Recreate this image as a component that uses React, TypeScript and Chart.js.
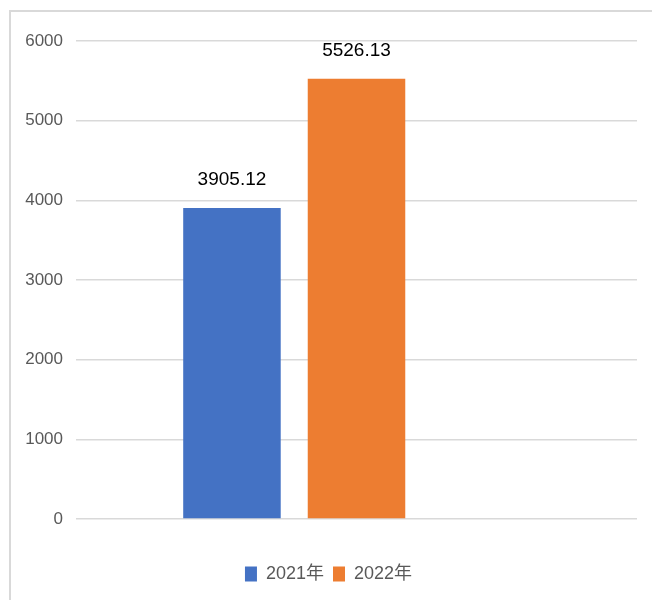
import React, { useEffect, useRef } from "react";
import { Chart, registerables } from "chart.js";

Chart.register(...registerables);

const categories = [""];
const seriesNames = ["2021年", "2022年", ""];
const values2021 = [3905.12];
const values2022 = [5526.13];
const valuesSpacer: (number | null)[] = [null];
const yTicks = [0, 1000, 2000, 3000, 4000, 5000, 6000];

const FONT = '"Liberation Sans", Arial, "Noto Sans CJK SC", sans-serif';

const valueLabels = {
  id: "valueLabels",
  afterDatasetsDraw(chart: any) {
    const ctx = chart.ctx;
    ctx.save();
    ctx.font = `19px ${FONT}`;
    ctx.fillStyle = "#000000";
    ctx.textAlign = "center";
    ctx.textBaseline = "middle";
    chart.data.datasets.forEach((ds: any, di: number) => {
      const meta = chart.getDatasetMeta(di);
      meta.data.forEach((el: any, i: number) => {
        const v = ds.data[i];
        if (v === null || v === undefined) return;
        ctx.fillText(v.toFixed(2), el.x, el.y - 28);
      });
    });
    ctx.restore();
  },
};

export default function App() {
  const ref = useRef<HTMLCanvasElement>(null);
  useEffect(() => {
    if (!ref.current) return;
    const chart = new Chart(ref.current, {
      type: "bar",
      data: {
        labels: categories,
        datasets: [
          { label: seriesNames[0], data: values2021, backgroundColor: "#4472C4" },
          { label: seriesNames[1], data: values2022, backgroundColor: "#ED7D31" },
          { label: seriesNames[2], data: valuesSpacer, backgroundColor: "rgba(0,0,0,0)" },
        ],
      },
      options: {
        animation: false,
        responsive: false,
        maintainAspectRatio: false,
        datasets: {
          bar: { categoryPercentage: 0.666, barPercentage: 0.783 },
        },
        layout: { padding: { left: 20, right: 15, top: 41, bottom: 7 } },
        plugins: {
          tooltip: { enabled: false },
          legend: {
            position: "bottom",
            labels: {
              boxWidth: 12,
              boxHeight: 15,
              padding: 9,
              color: "#595959",
              font: { family: FONT, size: 18 },
              filter: (item: any) => item.datasetIndex < 2,
            },
          },
        },
        scales: {
          x: {
            grid: { display: false },
            border: { display: false },
            ticks: { display: false },
            afterFit: (s: any) => {
              s.height = 37;
            },
          },
          y: {
            min: 0,
            max: 6000,
            afterBuildTicks: (s: any) => {
              s.ticks = yTicks.map((v) => ({ value: v }));
            },
            grid: { color: "#d9d9d9", lineWidth: 1.5, drawTicks: false },
            border: { display: false },
            ticks: {
              padding: 13,
              color: "#595959",
              font: { family: FONT, size: 17 },
              callback: (v: any) => String(v),
            },
            afterFit: (s: any) => {
              s.width = 56;
            },
          },
        },
      },
      plugins: [valueLabels],
    });
    return () => chart.destroy();
  }, []);

  return (
    <div style={{ position: "fixed", left: 0, top: 0, width: 652, height: 600, overflow: "hidden", background: "#fff" }}>
      <canvas ref={ref} width={652} height={600} style={{ position: "absolute", left: 0, top: 0 }} />
      <div
        style={{
          position: "absolute",
          left: 9,
          top: 10,
          width: 800,
          height: 800,
          border: "2px solid #d9d9d9",
          pointerEvents: "none",
        }}
      />
    </div>
  );
}
